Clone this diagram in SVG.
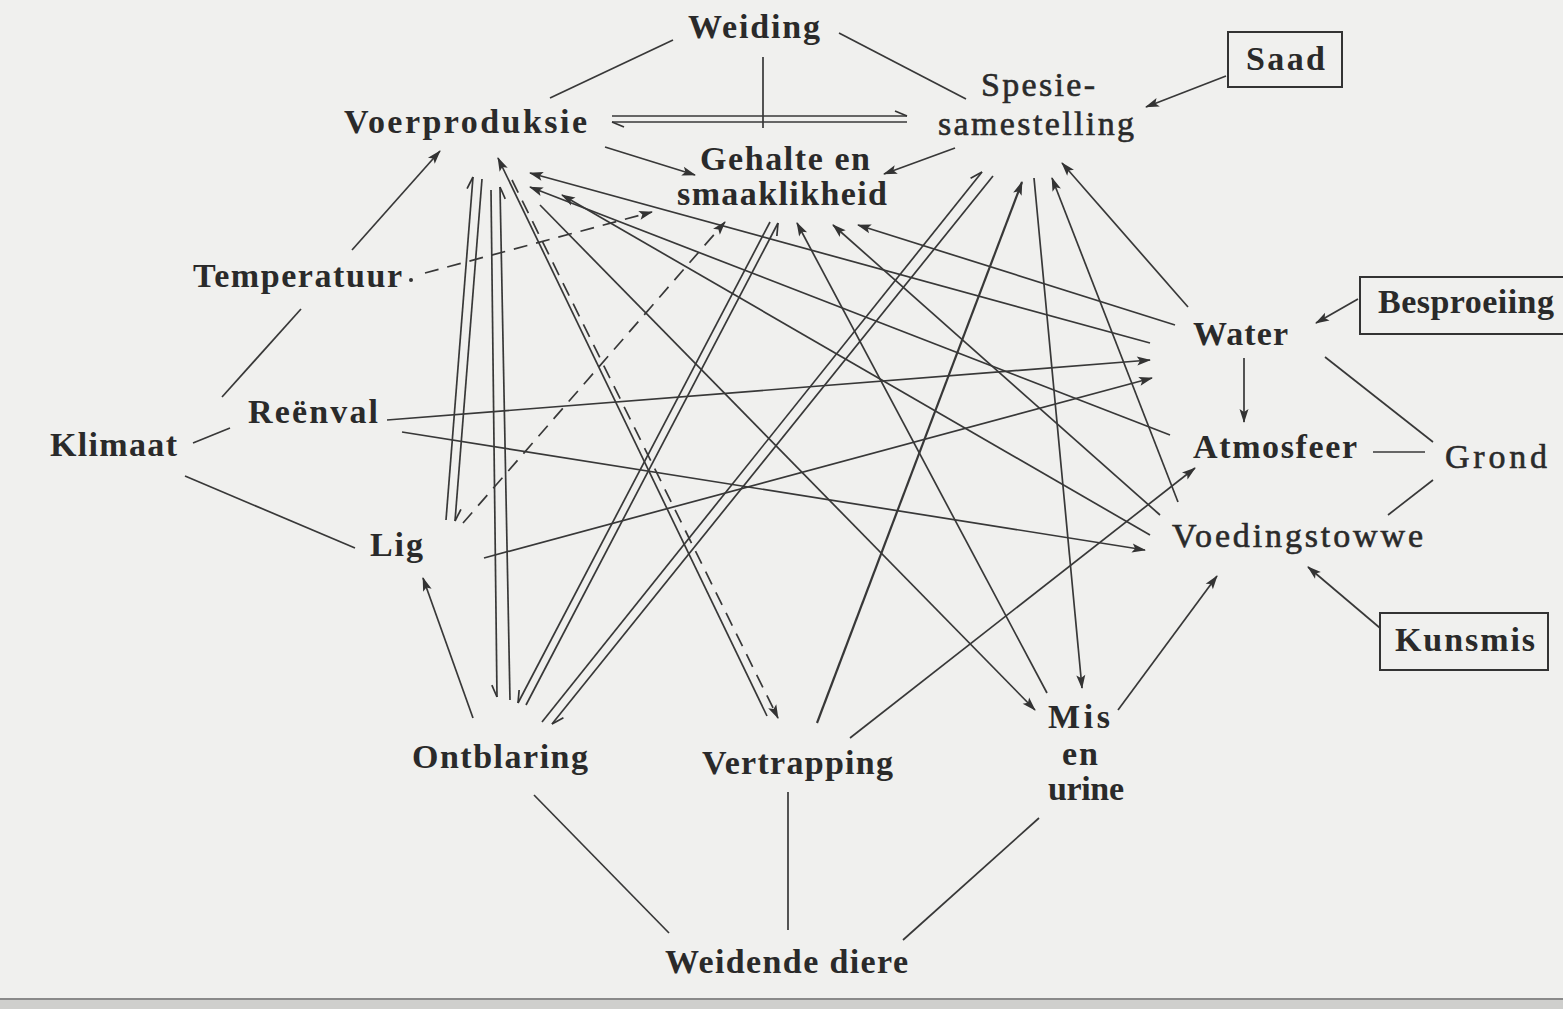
<svg xmlns="http://www.w3.org/2000/svg" width="1563" height="1009" viewBox="0 0 1563 1009">
<style>
text{font-family:"Liberation Serif","Times New Roman",serif;fill:#2a2a2a;font-size:34px}
.b{font-weight:bold}
.r{font-weight:normal;stroke:#2a2a2a;stroke-width:0.6}
.ln{stroke:#383838;stroke-width:1.7;fill:none}
.ar{marker-end:url(#arr)}
.dash{stroke-dasharray:14 9}
.hl{marker-end:url(#hl)}
.hr{marker-end:url(#hr)}
.box{fill:none;stroke:#333;stroke-width:2}
</style>
<defs>
<marker id="arr" markerUnits="userSpaceOnUse" markerWidth="30" markerHeight="30" viewBox="-15 -15 30 30" refX="0" refY="0" orient="auto" overflow="visible"><path d="M1,0 L-13,-4.5 L-10,0 L-13,4.5 Z" fill="#333"/></marker>
<marker id="hl" markerUnits="userSpaceOnUse" markerWidth="30" markerHeight="30" viewBox="-15 -15 30 30" refX="0" refY="0" orient="auto" overflow="visible"><path d="M0,0 L-12,-5" stroke="#333" stroke-width="1.7" fill="none"/></marker>
<marker id="hr" markerUnits="userSpaceOnUse" markerWidth="30" markerHeight="30" viewBox="-15 -15 30 30" refX="0" refY="0" orient="auto" overflow="visible"><path d="M0,0 L-12,5" stroke="#333" stroke-width="1.7" fill="none"/></marker>
</defs>
<rect x="0" y="0" width="1563" height="1009" fill="#f0f0ee"/>
<rect x="0" y="998" width="1563" height="11" fill="#cfcfcd"/>
<line x1="0" y1="999" x2="1563" y2="999" stroke="#8a8a8a" stroke-width="2"/>

<g id="connectors">
<!-- plain lines -->
<line class="ln" x1="673" y1="40" x2="550" y2="98"/>
<line class="ln" x1="839" y1="33" x2="966" y2="99"/>
<line class="ln" x1="763" y1="57" x2="763" y2="128"/>
<line class="ln" x1="222" y1="397" x2="301" y2="309"/>
<line class="ln" x1="193" y1="443" x2="230" y2="428"/>
<line class="ln" x1="185" y1="476" x2="355" y2="548"/>
<line class="ln" x1="1325" y1="357" x2="1433" y2="442"/>
<line class="ln" x1="1373" y1="452" x2="1425" y2="452"/>
<line class="ln" x1="1433" y1="480" x2="1388" y2="515"/>
<line class="ln" x1="534" y1="795" x2="669" y2="933"/>
<line class="ln" x1="788" y1="792" x2="788" y2="930"/>
<line class="ln" x1="1039" y1="818" x2="903" y2="940"/>
<!-- single arrows -->
<line class="ln ar" x1="352" y1="250" x2="440" y2="151"/>
<line class="ln ar" x1="605" y1="147" x2="695" y2="175"/>
<line class="ln ar" x1="955" y1="148" x2="884" y2="174"/>
<line class="ln ar" x1="1226" y1="76" x2="1146" y2="107"/>
<line class="ln ar" x1="1358" y1="299" x2="1316" y2="323"/>
<line class="ln ar" x1="1244" y1="358" x2="1244" y2="422"/>
<line class="ln ar" x1="1380" y1="628" x2="1308" y2="567"/>
<line class="ln ar" x1="1118" y1="710" x2="1217" y2="576"/>
<line class="ln ar" x1="473" y1="718" x2="423" y2="578"/>
<line class="ln ar" x1="1150" y1="343" x2="530" y2="173"/>
<line class="ln ar" x1="1170" y1="435" x2="530" y2="187"/>
<line class="ln ar" x1="1150" y1="535" x2="562" y2="195"/>
<line class="ln ar" x1="540" y1="205" x2="1035" y2="710"/>
<line class="ln ar" x1="1175" y1="325" x2="858" y2="225"/>
<line class="ln ar" x1="1160" y1="515" x2="833" y2="225"/>
<line class="ln ar" x1="1047" y1="693" x2="797" y2="223"/>
<line class="ln ar" x1="1188" y1="307" x2="1062" y2="163"/>
<line class="ln ar" x1="1178" y1="502" x2="1052" y2="178"/>
<line class="ln ar" x1="817" y1="723" x2="1022" y2="182" style="stroke-width:2.2"/>
<line class="ln ar" x1="1034" y1="178" x2="1082" y2="688"/>
<line class="ln ar" x1="387" y1="420" x2="1150" y2="360"/>
<line class="ln ar" x1="402" y1="432" x2="1145" y2="550"/>
<line class="ln ar" x1="484" y1="558" x2="1152" y2="378"/>
<line class="ln ar" x1="850" y1="738" x2="1195" y2="468"/>
<line class="ln ar" x1="767" y1="716" x2="498" y2="158"/>
<!-- dashed arrows -->
<line class="ln ar dash" x1="512" y1="180" x2="778" y2="718"/>
<line class="ln ar dash" x1="425" y1="273" x2="652" y2="212"/>
<line class="ln ar dash" x1="463" y1="523" x2="725" y2="222"/>
<circle cx="411" cy="280" r="2" fill="#333"/>
<!-- double harpoon pairs -->
<line class="ln hl" x1="612" y1="116" x2="907" y2="116"/>
<line class="ln hl" x1="907" y1="122" x2="612" y2="122"/>
<line class="ln hl" x1="446" y1="520" x2="473" y2="177"/>
<line class="ln hl" x1="482" y1="179" x2="455" y2="521"/>
<line class="ln hr" x1="491" y1="190" x2="497" y2="697"/>
<line class="ln hr" x1="510" y1="700" x2="500" y2="187"/>
<line class="ln hr" x1="770" y1="222" x2="518" y2="703"/>
<line class="ln hr" x1="526" y1="705" x2="778" y2="223"/>
<line class="ln hl" x1="542" y1="722" x2="982" y2="172"/>
<line class="ln hl" x1="993" y1="176" x2="552" y2="724"/>
</g>

<g id="weiding"><text class="b" x="688" y="38" textLength="132" lengthAdjust="spacing">Weiding</text></g>
<g id="voerproduksie"><text class="b" x="344" y="133" font-size="36" textLength="243" lengthAdjust="spacing">Voerproduksie</text></g>
<g id="spesiesamestelling"><text class="r" x="981" y="96" font-size="36" textLength="114" lengthAdjust="spacing">Spesie-</text><text class="r" x="938" y="135" font-size="36" textLength="196" lengthAdjust="spacing">samestelling</text></g>
<g id="saad"><rect class="box" x="1228" y="32" width="114" height="55"/><text class="b" x="1246" y="70" textLength="79" lengthAdjust="spacing">Saad</text></g>
<g id="gehalte"><text class="b" x="700" y="170" textLength="170" lengthAdjust="spacing">Gehalte en</text><text class="b" x="677" y="205" textLength="210" lengthAdjust="spacing">smaaklikheid</text></g>
<g id="temperatuur"><text class="b" x="193" y="287" textLength="209" lengthAdjust="spacing">Temperatuur</text></g>
<g id="reenval"><text class="b" x="248" y="423" font-size="35" textLength="130" lengthAdjust="spacing">Reënval</text></g>
<g id="klimaat"><text class="b" x="50" y="456" textLength="127" lengthAdjust="spacing">Klimaat</text></g>
<g id="lig"><text class="b" x="370" y="556" font-size="35" textLength="53" lengthAdjust="spacing">Lig</text></g>
<g id="water"><text class="b" x="1193" y="345" textLength="95" lengthAdjust="spacing">Water</text></g>
<g id="besproeiing"><rect class="box" x="1360" y="277" width="215" height="57"/><text class="b" x="1378" y="313" font-size="33" textLength="176" lengthAdjust="spacing">Besproeiing</text></g>
<g id="atmosfeer"><text class="b" x="1193" y="458" textLength="164" lengthAdjust="spacing">Atmosfeer</text></g>
<g id="grond"><text class="r" x="1445" y="468" font-size="37" textLength="102" lengthAdjust="spacing">Grond</text></g>
<g id="voedingstowwe"><text class="r" x="1172" y="547" font-size="35" textLength="251" lengthAdjust="spacing">Voedingstowwe</text></g>
<g id="kunsmis"><rect class="box" x="1380" y="613" width="168" height="57"/><text class="b" x="1395" y="651" textLength="140" lengthAdjust="spacing">Kunsmis</text></g>
<g id="misenurine"><text class="b" x="1048" y="728" textLength="62" lengthAdjust="spacing">Mis</text><text class="b" x="1062" y="765" textLength="36" lengthAdjust="spacing">en</text><text class="b" x="1048" y="800" textLength="76" lengthAdjust="spacing">urine</text></g>
<g id="ontblaring"><text class="b" x="412" y="768" font-size="35" textLength="176" lengthAdjust="spacing">Ontblaring</text></g>
<g id="vertrapping"><text class="b" x="702" y="774" font-size="35" textLength="191" lengthAdjust="spacing">Vertrapping</text></g>
<g id="weidendediere"><text class="b" x="665" y="973" font-size="35" textLength="243" lengthAdjust="spacing">Weidende diere</text></g>
</svg>
